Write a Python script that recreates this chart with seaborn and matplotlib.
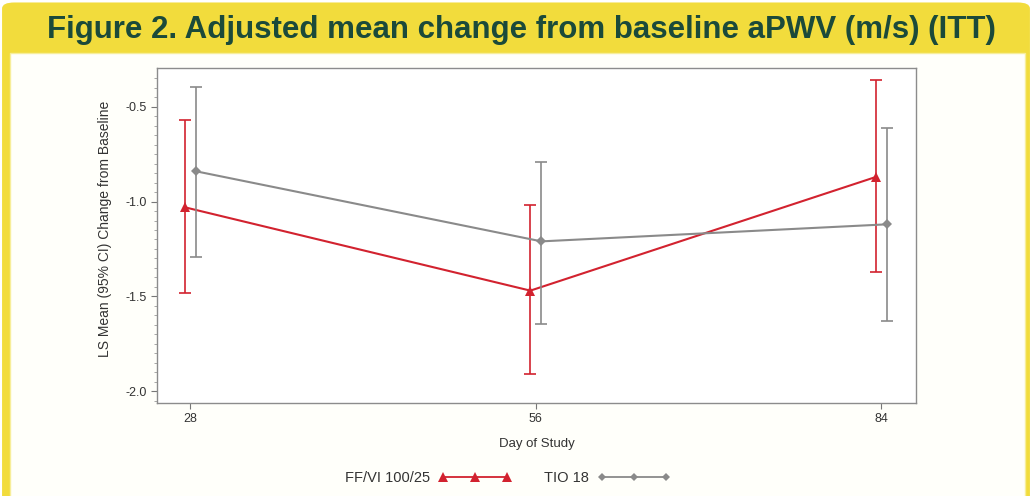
import numpy as np
import pandas as pd
import seaborn as sns
import matplotlib.pyplot as plt
from matplotlib.patches import FancyBboxPatch, Rectangle
from matplotlib.lines import Line2D

# Datos
days = [28, 56, 84]
groups = ["FF/VI 100/25", "TIO 18"]
ffvi_mean = [-1.03, -1.47, -0.87]
ffvi_low = [-1.48, -1.91, -1.37]
ffvi_high = [-0.57, -1.02, -0.36]
tio_mean = [-0.84, -1.21, -1.12]
tio_low = [-1.29, -1.645, -1.63]
tio_high = [-0.395, -0.79, -0.61]

red = "#d2222f"
grey = "#8a8a8a"
offset = {"FF/VI 100/25": -0.45, "TIO 18": 0.45}
marker = {"FF/VI 100/25": "^", "TIO 18": "D"}
msize = {"FF/VI 100/25": 7.5, "TIO 18": 5}
color = {"FF/VI 100/25": red, "TIO 18": grey}

df = pd.DataFrame({
    "day": days * 2,
    "group": [groups[0]] * 3 + [groups[1]] * 3,
    "mean": ffvi_mean + tio_mean,
    "low": ffvi_low + tio_low,
    "high": ffvi_high + tio_high,
})
df["x"] = df["day"] + df["group"].map(offset)

sns.set_theme(style="white")
plt.rcParams["font.family"] = ["Liberation Sans", "DejaVu Sans"]

fig = plt.figure(figsize=(10.32, 4.96), dpi=100)
fig.patch.set_facecolor("white")

# marco amarillo
fig.patches.append(FancyBboxPatch((0.002, -0.05), 0.996, 1.045, boxstyle="round,pad=0,rounding_size=0.012",
                                  transform=fig.transFigure, facecolor="#f2dc3c", edgecolor="none", zorder=-10))
fig.patches.append(Rectangle((10 / 1032, -0.05), 1015 / 1032, 1 - 53 / 496 + 0.05,
                             transform=fig.transFigure, facecolor="#fffffa", edgecolor="#f7ee9a", lw=1, zorder=-9))

fig.text(0.505, 1 - 30 / 496, "Figure 2. Adjusted mean change from baseline aPWV (m/s) (ITT)",
         ha="center", va="center", fontsize=22.5, fontweight="bold", color="#1b4a3a",
         family=["Liberation Sans Narrow", "Liberation Sans", "DejaVu Sans"])

ax = fig.add_axes([157 / 1032, 1 - 403 / 496, 759 / 1032, 335 / 496])
ax.set_zorder(5)
ax.set_facecolor("white")

for g in groups:
    sub = df[df["group"] == g]
    sns.lineplot(data=sub, x="x", y="mean", color=color[g], marker=marker[g], markersize=msize[g],
                 linewidth=1.5, markeredgewidth=0, ax=ax, legend=False)
    ax.errorbar(sub["x"], sub["mean"], yerr=[sub["mean"] - sub["low"], sub["high"] - sub["mean"]],
                fmt="none", ecolor=color[g], elinewidth=1.2, capsize=4, capthick=1.2)

ax.set_xlim(25.3, 86.8)
ax.set_ylim(-2.063, -0.295)
ax.set_xticks(days)
ax.set_yticks([-2.0, -1.5, -1.0, -0.5])
ax.set_yticklabels(["-2.0", "-1.5", "-1.0", "-0.5"])
ax.set_yticks(np.arange(-2.05, -0.3, 0.05), minor=True)
ax.tick_params(axis="both", which="major", direction="out", length=4, width=0.8, color="#777777",
               labelsize=9, labelcolor="#333333", left=True, bottom=True)
ax.tick_params(axis="y", which="minor", direction="out", length=2, width=0.6, color="#999999", left=True)
for s in ax.spines.values():
    s.set_color("#8c8c8c")
    s.set_linewidth(1.0)

ax.set_xlabel("Day of Study", fontsize=9.5, color="#333333", labelpad=9)
ax.set_ylabel("LS Mean (95% CI) Change from Baseline", fontsize=10, color="#333333")
ax.yaxis.set_label_coords(-0.059, 0.52)

handles = [Line2D([0], [0], color=red, marker="^", markersize=7, lw=1.3, markeredgewidth=0),
           Line2D([0], [0], color=grey, marker="D", markersize=4.5, lw=1.3, markeredgewidth=0)]
fig.legend(handles, groups, loc="center", bbox_to_anchor=(0.492, 1 - 478 / 496), ncol=2, frameon=False,
           numpoints=3, markerfirst=False, handlelength=5.0, handletextpad=0.6, columnspacing=2.2,
           fontsize=10.5, labelcolor="#333333")

fig.savefig("out.png", dpi=100, facecolor=fig.get_facecolor())
